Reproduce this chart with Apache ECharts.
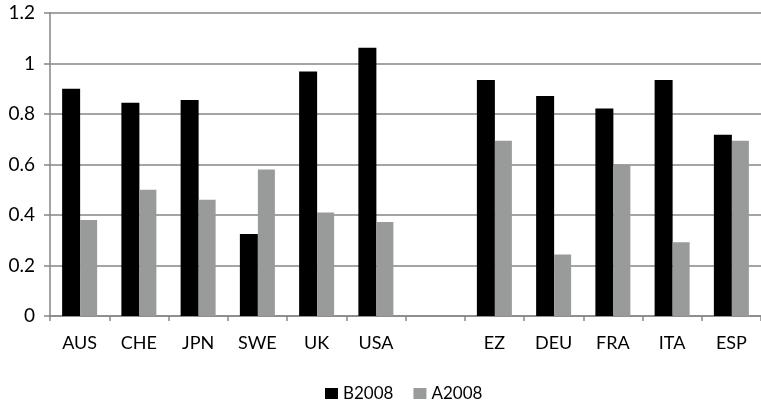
<!DOCTYPE html>
<html>
<head>
<meta charset="utf-8">
<script src="https://cdn.jsdelivr.net/npm/echarts@6/dist/echarts.min.js"></script>
<style>html,body{margin:0;padding:0;background:#fff;}#c{width:761px;height:401px;}</style>
</head>
<body>
<div id="c"></div>
<script>
var categories = ['AUS','CHE','JPN','SWE','UK','USA','','EZ','DEU','FRA','ITA','ESP'];
var b2008 = [0.90,0.845,0.855,0.325,0.968,1.062,null,0.935,0.871,0.822,0.935,0.718];
var a2008 = [0.38,0.50,0.46,0.58,0.41,0.372,null,0.694,0.244,0.60,0.292,0.694];
var yTicks = [0,0.2,0.4,0.6,0.8,1,1.2];

var chart = echarts.init(document.getElementById('c'));
var font = 'Lato, "Liberation Sans", sans-serif';
chart.setOption({
  animation: false,
  textStyle: {fontFamily: font},
  grid: {left: 50, top: 13, right: -6, bottom: 85, containLabel: false},
  legend: {
    data: ['B2008','A2008'],
    left: 320, top: 380,
    itemWidth: 13, itemHeight: 11, itemGap: 20,
    icon: 'rect',
    textStyle: {fontSize: 17, color: '#000', fontFamily: font}
  },
  xAxis: {
    type: 'category',
    data: categories,
    axisLine: {lineStyle: {color: '#868686', width: 1.5}},
    axisTick: {show: true, length: 5, lineStyle: {color: '#868686', width: 1.5}},
    axisLabel: {fontSize: 18, color: '#000', margin: 18, fontFamily: font, interval: 0}
  },
  yAxis: {
    type: 'value',
    min: 0, max: 1.2, interval: 0.2,
    axisLine: {show: true, lineStyle: {color: '#868686', width: 1.5}},
    axisTick: {show: true, length: 6, lineStyle: {color: '#868686', width: 1.5}},
    splitLine: {lineStyle: {color: '#868686', width: 1.5}},
    axisLabel: {fontSize: 19, color: '#000', margin: 15, fontFamily: font,
      formatter: function(v){ return String(Math.round(v*10)/10); }}
  },
  series: [
    {name: 'B2008', type: 'bar', data: b2008, barWidth: 18, barGap: '0%',
     itemStyle: {color: '#000000'}},
    {name: 'A2008', type: 'bar', data: a2008, barWidth: 17,
     itemStyle: {color: '#999b9b'}}
  ]
});
</script>
</body>
</html>
